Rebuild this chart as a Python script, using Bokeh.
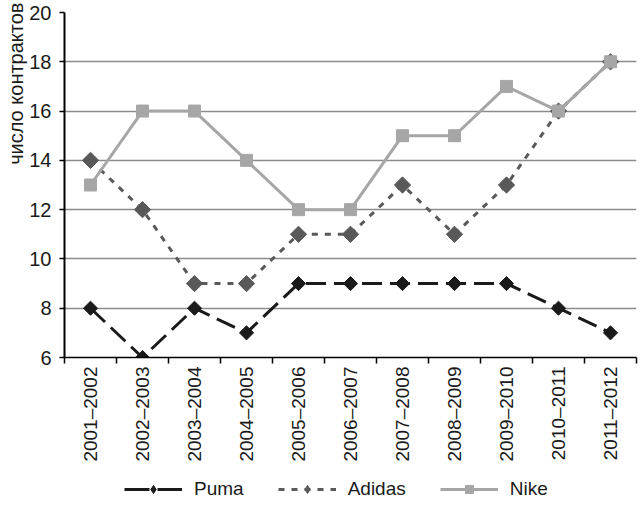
import math
from bokeh.plotting import figure
from bokeh.layouts import column
from bokeh.models import (FixedTicker, CustomJSTickFormatter, Legend, LegendItem,
                          Title, Range1d)
from bokeh.embed import file_html
from bokeh.resources import INLINE

seasons = ["2001–2002", "2002–2003", "2003–2004", "2004–2005", "2005–2006",
           "2006–2007", "2007–2008", "2008–2009", "2009–2010", "2010–2011",
           "2011–2012"]
puma = [8, 6, 8, 7, 9, 9, 9, 9, 9, 8, 7]
adidas = [14, 12, 9, 9, 11, 11, 13, 11, 13, 16, 18]
nike = [13, 16, 16, 14, 12, 12, 15, 15, 17, 16, 18]
y_ticks = [6, 8, 10, 12, 14, 16, 18, 20]
y_title = "число контрактов"
series_names = ["Puma", "Adidas", "Nike"]

FONT = "Liberation Sans"
FS = "19px"
TXT = "#1a1a1a"

STYLES = {
    "Puma": dict(color="#1a1a1a", dash="20 8", marker="square", angle=math.pi / 4, size=10,
                 lg_dash="25 8", lg_marker="diamond", lg_size=15),
    "Adidas": dict(color="#595959", dash="6 7", marker="square", angle=math.pi / 4, size=11.5,
                   lg_dash="6 7", lg_marker="diamond", lg_size=16),
    "Nike": dict(color="#a6a6a6", dash="solid", marker="square", angle=0, size=12,
                 lg_dash="solid", lg_marker="square", lg_size=12),
}

xs = list(range(len(seasons)))

p = figure(width=642, height=465, output_backend="svg", toolbar_location=None,
           x_range=Range1d(-0.5, len(seasons) - 0.5),
           y_range=Range1d(y_ticks[0], y_ticks[-1]),
           min_border_left=64, min_border_right=6, min_border_top=12,
           min_border_bottom=108)
p.outline_line_color = None
p.background_fill_color = "white"
p.border_fill_color = "white"

# grid
p.xgrid.grid_line_color = None
p.ygrid.ticker = FixedTicker(ticks=y_ticks)
p.ygrid.grid_line_color = "#8c8c8c"
p.ygrid.grid_line_width = 1.3

# x axis
xa = p.xaxis[0]
xa.axis_label = None
xa.ticker = FixedTicker(ticks=xs, minor_ticks=[i - 0.5 for i in range(len(seasons) + 1)])
xa.formatter = CustomJSTickFormatter(args=dict(labels=seasons),
                                     code="return labels[Math.round(tick)] || '';")
xa.major_label_orientation = math.pi / 2
xa.major_tick_line_color = None
xa.major_tick_out = 6
xa.major_tick_in = 0
xa.minor_tick_in = 0
xa.minor_tick_out = 6
xa.minor_tick_line_color = "black"
xa.minor_tick_line_width = 1.5
xa.axis_line_color = "black"
xa.axis_line_width = 1.5
xa.major_label_standoff = 3
xa.major_label_text_font = FONT
xa.major_label_text_font_size = FS
xa.major_label_text_color = TXT

# y axis
ya = p.yaxis[0]
ya.axis_label = None
ya.ticker = FixedTicker(ticks=y_ticks)
ya.major_tick_out = 5
ya.major_tick_in = 0
ya.major_tick_line_color = "black"
ya.major_tick_line_width = 1.3
ya.minor_tick_line_color = None
ya.axis_line_color = "black"
ya.axis_line_width = 2
ya.major_label_standoff = 8
ya.major_label_text_font = FONT
ya.major_label_text_font_size = "20px"
ya.major_label_text_color = TXT

p.add_layout(Title(text=y_title, align="right", offset=-10, text_font=FONT,
                   text_font_size="20px", text_color=TXT, text_font_style="normal",
                   standoff=0), "left")

# legend strip below the chart; its renderers hold the same series but lie
# outside this strip's visible range, so only the legend glyphs show
lg = figure(width=642, height=40, output_backend="svg", toolbar_location=None,
            x_axis_location=None, y_axis_location=None,
            x_range=Range1d(-200, -199), y_range=Range1d(-200, -199),
            min_border=0)
lg.outline_line_color = None
lg.grid.visible = False
lg.border_fill_color = "white"
lg.background_fill_color = "white"

items = []
for name, vals in zip(series_names, [puma, adidas, nike]):
    st = STYLES[name]
    p.line(xs, vals, line_color=st["color"], line_width=3, line_dash=st["dash"])
    p.scatter(xs, vals, marker=st["marker"], angle=st["angle"], size=st["size"],
              fill_color=st["color"], line_color=st["color"])
    ll = lg.line(xs, vals, line_color=st["color"], line_width=3, line_dash=st["lg_dash"])
    lm = lg.scatter(xs, vals, marker=st["lg_marker"], size=st["lg_size"],
                    fill_color=st["color"], line_color=st["color"])
    items.append(LegendItem(label=name, renderers=[ll, lm]))

legend = Legend(items=items, orientation="horizontal", location=(60, 5),
                glyph_width=58, glyph_height=20, label_height=20,
                label_standoff=12, spacing=34, padding=0, margin=0,
                border_line_color=None, background_fill_alpha=0,
                label_text_font=FONT, label_text_font_size=FS,
                label_text_color=TXT)
lg.add_layout(legend)

layout = column(p, lg, spacing=0)
open("out.html", "w").write(file_html(layout, INLINE))
